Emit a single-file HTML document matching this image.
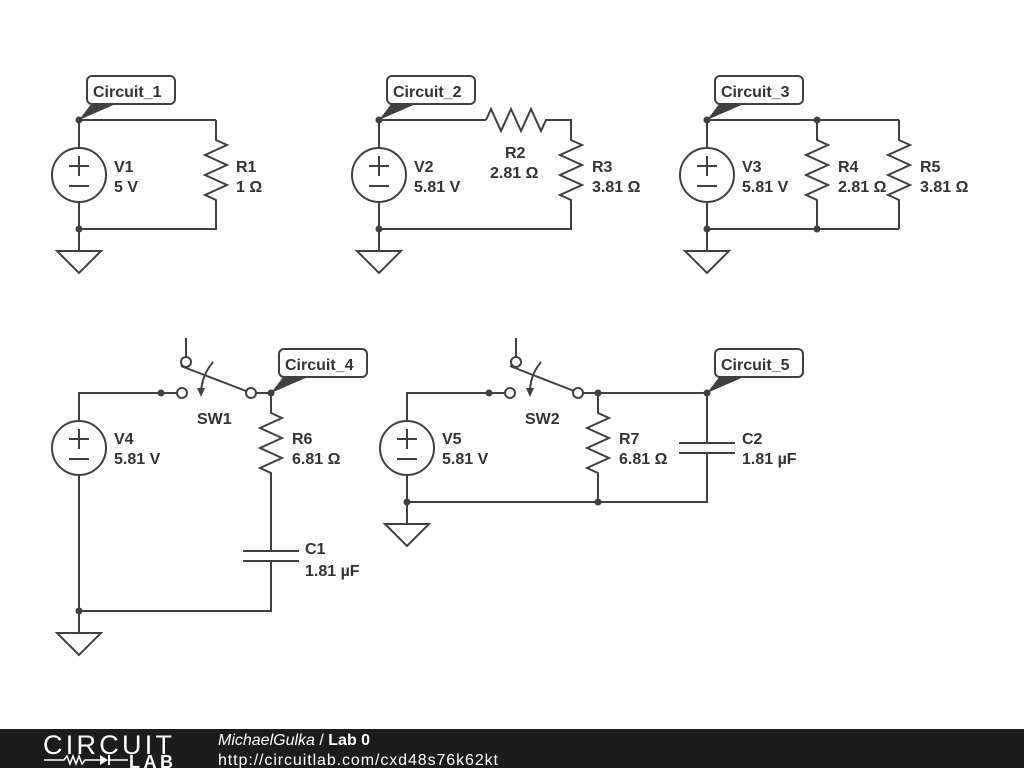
<!DOCTYPE html>
<html><head><meta charset="utf-8"><style>
html,body{margin:0;padding:0;background:#fff;}
svg{display:block;}
text{font-family:"Liberation Sans",sans-serif;font-weight:bold;font-size:16px;fill:#333;}
.w{stroke:#404040;stroke-width:2;fill:none;}
</style></head><body>
<svg width="1024" height="768" viewBox="0 0 1024 768">
<defs>
<g id="src"><circle cx="0" cy="0" r="27" class="w"/><line x1="-10" y1="-9" x2="10" y2="-9" class="w"/><line x1="0" y1="-19" x2="0" y2="1" class="w"/><line x1="-10" y1="11" x2="10" y2="11" class="w"/></g>
<g id="gnd"><line x1="0" y1="0" x2="0" y2="22" class="w"/><polygon points="-22,22 22,22 0,44" class="w"/></g>
</defs>

<!-- Circuit 1 -->
<line x1="79" y1="120" x2="216" y2="120" class="w"/>
<line x1="79" y1="120" x2="79" y2="148" class="w"/>
<line x1="79" y1="202" x2="79" y2="229" class="w"/>
<use href="#src" x="79" y="175"/>
<polyline class="w" points="216,120 216,140 227,145 205,155 227,165 205,175 227,185 205,195 216,200 216,229 79,229"/>
<use href="#gnd" x="79" y="229"/>
<circle cx="79" cy="120" r="3.5" fill="#404040"/><circle cx="79" cy="229" r="3.5" fill="#404040"/>
<text x="114" y="172">V1</text><text x="114" y="192">5 V</text>
<text x="236" y="172">R1</text><text x="236" y="192">1 Ω</text>

<!-- Circuit 2 -->
<line x1="379" y1="120" x2="486" y2="120" class="w"/>
<polyline class="w" points="486,120 491,109 501,131 511,109 521,131 531,109 541,131 546,120 571,120 571,140 582,145 560,155 582,165 560,175 582,185 560,195 571,200 571,229 379,229"/>
<line x1="379" y1="120" x2="379" y2="148" class="w"/><line x1="379" y1="202" x2="379" y2="229" class="w"/>
<use href="#src" x="379" y="175"/><use href="#gnd" x="379" y="229"/>
<circle cx="379" cy="120" r="3.5" fill="#404040"/><circle cx="379" cy="229" r="3.5" fill="#404040"/>
<text x="414" y="172">V2</text><text x="414" y="192">5.81 V</text>
<text x="505" y="158">R2</text><text x="490" y="178">2.81 Ω</text>
<text x="592" y="172">R3</text><text x="592" y="192">3.81 Ω</text>

<!-- Circuit 3 -->
<line x1="707" y1="120" x2="899" y2="120" class="w"/>
<line x1="707" y1="229" x2="899" y2="229" class="w"/>
<line x1="707" y1="120" x2="707" y2="148" class="w"/><line x1="707" y1="202" x2="707" y2="229" class="w"/>
<use href="#src" x="707" y="175"/><use href="#gnd" x="707" y="229"/>
<polyline class="w" points="817,120 817,140 828,145 806,155 828,165 806,175 828,185 806,195 817,200 817,229"/>
<polyline class="w" points="899,120 899,140 910,145 888,155 910,165 888,175 910,185 888,195 899,200 899,229"/>
<circle cx="707" cy="120" r="3.5" fill="#404040"/><circle cx="707" cy="229" r="3.5" fill="#404040"/>
<circle cx="817" cy="120" r="3.5" fill="#404040"/><circle cx="817" cy="229" r="3.5" fill="#404040"/>
<text x="742" y="172">V3</text><text x="742" y="192">5.81 V</text>
<text x="838" y="172">R4</text><text x="838" y="192">2.81 Ω</text>
<text x="920" y="172">R5</text><text x="920" y="192">3.81 Ω</text>

<!-- Circuit 4 -->
<polyline class="w" points="79,421 79,393 177,393"/>
<line x1="79" y1="475" x2="79" y2="611" class="w"/>
<use href="#src" x="79" y="448"/>
<circle cx="161" cy="393" r="3.5" fill="#404040"/>
<circle cx="182" cy="393" r="5" fill="#fff" class="w"/>
<line x1="186" y1="338" x2="186" y2="357" class="w"/>
<circle cx="186" cy="362" r="5" fill="#fff" class="w"/>
<line x1="181" y1="366" x2="246" y2="391" class="w"/>
<circle cx="251" cy="393" r="5" fill="#fff" class="w"/>
<path d="M213,362 Q202,375 201,392" class="w"/><polygon points="197,388 205,388 201,397" fill="#404040"/>
<polyline class="w" points="256,393 271,393 271,413 282,418 260,428 282,438 260,448 282,458 260,468 271,473 271,551"/>
<line x1="243" y1="551" x2="299" y2="551" class="w"/><line x1="243" y1="561" x2="299" y2="561" class="w"/>
<polyline class="w" points="271,561 271,611 79,611"/>
<use href="#gnd" x="79" y="611"/>
<circle cx="79" cy="611" r="3.5" fill="#404040"/><circle cx="271" cy="393" r="3.5" fill="#404040"/>
<text x="114" y="444">V4</text><text x="114" y="464">5.81 V</text>
<text x="197" y="424">SW1</text>
<text x="292" y="444">R6</text><text x="292" y="464">6.81 Ω</text>
<text x="305" y="554">C1</text><text x="305" y="576">1.81 µF</text>

<!-- Circuit 5 -->
<polyline class="w" points="407,421 407,393 505,393"/>
<line x1="407" y1="475" x2="407" y2="502" class="w"/>
<use href="#src" x="407" y="448"/>
<circle cx="489" cy="393" r="3.5" fill="#404040"/>
<circle cx="510" cy="393" r="5" fill="#fff" class="w"/>
<line x1="516" y1="338" x2="516" y2="357" class="w"/>
<circle cx="516" cy="362" r="5" fill="#fff" class="w"/>
<line x1="510" y1="366" x2="574" y2="391" class="w"/>
<circle cx="578" cy="393" r="5" fill="#fff" class="w"/>
<path d="M541,362 Q530,375 530,392" class="w"/><polygon points="526,388 534,388 530,397" fill="#404040"/>
<line x1="583" y1="393" x2="707" y2="393" class="w"/>
<polyline class="w" points="598,393 598,413 609,418 587,428 609,438 587,448 609,458 587,468 598,473 598,502"/>
<line x1="707" y1="393" x2="707" y2="443" class="w"/>
<line x1="679" y1="443" x2="735" y2="443" class="w"/><line x1="679" y1="453" x2="735" y2="453" class="w"/>
<polyline class="w" points="707,453 707,502 407,502"/>
<use href="#gnd" x="407" y="502"/>
<circle cx="407" cy="502" r="3.5" fill="#404040"/><circle cx="598" cy="393" r="3.5" fill="#404040"/>
<circle cx="598" cy="502" r="3.5" fill="#404040"/><circle cx="707" cy="393" r="3.5" fill="#404040"/>
<text x="442" y="444">V5</text><text x="442" y="464">5.81 V</text>
<text x="525" y="424">SW2</text>
<text x="619" y="444">R7</text><text x="619" y="464">6.81 Ω</text>
<text x="742" y="444">C2</text><text x="742" y="464">1.81 µF</text>

<!-- labels -->
<g>
<polygon points="79,120 92,103 118,103" fill="#404040"/>
<rect x="87" y="76" width="88" height="28" rx="5" fill="#fff" stroke="#404040" stroke-width="2"/>
<text x="93" y="97">Circuit_1</text>
<polygon points="379,120 392,103 418,103" fill="#404040"/>
<rect x="387" y="76" width="88" height="28" rx="5" fill="#fff" stroke="#404040" stroke-width="2"/>
<text x="393" y="97">Circuit_2</text>
<polygon points="707,120 720,103 746,103" fill="#404040"/>
<rect x="715" y="76" width="88" height="28" rx="5" fill="#fff" stroke="#404040" stroke-width="2"/>
<text x="721" y="97">Circuit_3</text>
<polygon points="271,393 284,376 310,376" fill="#404040"/>
<rect x="279" y="349" width="88" height="28" rx="5" fill="#fff" stroke="#404040" stroke-width="2"/>
<text x="285" y="370">Circuit_4</text>
<polygon points="707,393 720,376 746,376" fill="#404040"/>
<rect x="715" y="349" width="88" height="28" rx="5" fill="#fff" stroke="#404040" stroke-width="2"/>
<text x="721" y="370">Circuit_5</text>
</g>

<!-- footer -->
<rect x="0" y="729" width="1024" height="39" fill="#1c1c1c"/>
<text x="43" y="754" style="font-weight:normal;font-size:27px;fill:#fff;letter-spacing:1px" textLength="130">CIRCUIT</text>
<polyline points="44,760 64,760 67,756 70,764 73,756 76,764 79,756 82,764 85,760 100,760" stroke="#fff" stroke-width="1.5" fill="none"/>
<polygon points="100,755 100,765 108,760" fill="#fff"/><line x1="109" y1="755" x2="109" y2="765" stroke="#fff" stroke-width="2"/>
<line x1="109" y1="760" x2="128" y2="760" stroke="#fff" stroke-width="1.5"/>
<text x="129" y="768" style="font-size:18px;fill:#fff" textLength="44">LAB</text>
<text x="218" y="745" style="font-weight:normal;font-size:16px;fill:#fff"><tspan font-style="italic">MichaelGulka</tspan> / <tspan font-weight="bold">Lab 0</tspan></text>
<text x="218" y="765" style="font-weight:normal;font-size:16px;fill:#fff" textLength="280">http://circuitlab.com/cxd48s76k62kt</text>
</svg>
</body></html>
